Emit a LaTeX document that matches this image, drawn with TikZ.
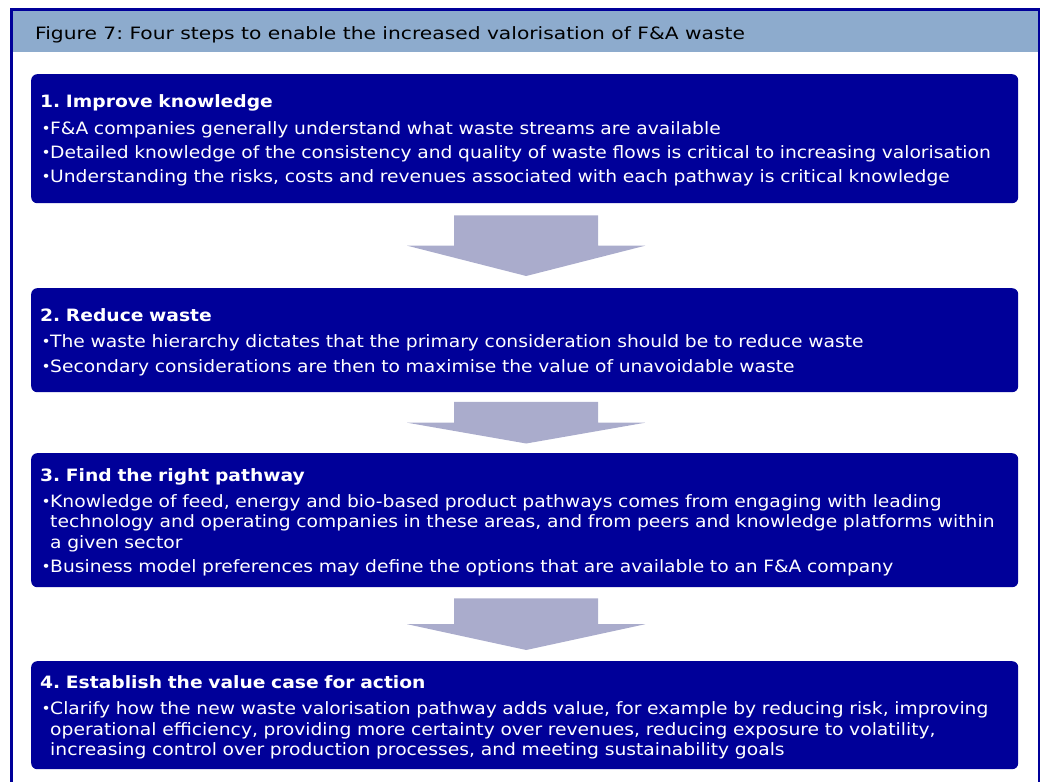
\documentclass[tikz,border=0pt]{standalone}
\usepackage{fontspec}
\usepackage{graphicx}
\setmainfont[FakeStretch=1.1]{DejaVu Sans}
\newfontfamily\capfont[FakeStretch=1.19]{DejaVu Sans}
\usetikzlibrary{calc}

\definecolor{stepblue}{RGB}{0,0,153}
\definecolor{headblue}{RGB}{141,171,205}
\definecolor{arrowgrey}{RGB}{170,172,204}

\newcommand{\stepdot}{\raisebox{1pt}{\fontsize{14}{14}\selectfont\textbullet}}
\newcommand{\steptitle}[1]{\noindent\rule{0pt}{17pt}{\bfseries #1}\par\vspace{2pt}}
\newcommand{\stepitem}[1]{\par\vspace{4pt}\hangindent=10pt\hangafter=1\noindent\makebox[10pt][l]{\hspace{1.5pt}\stepdot}#1\par}

\tikzset{
  stepbox/.style={fill=stepblue, rounded corners=6pt, text=white, anchor=north west,
    text width=969pt, inner xsep=9pt, inner ysep=0pt, align=left,
    font=\fontsize{17}{20.3}\selectfont\frenchspacing},
  blockarrow/.style={fill=arrowgrey}
}

\begin{document}
\begin{tikzpicture}[x=1pt, y=-1pt]
\useasboundingbox (0,0) rectangle (1045,782);

% frame and heading
\fill[headblue] (12,10) rectangle (1038,52);
\draw[stepblue, line width=2.5pt] (11.5,800) -- (11.5,9.5) -- (1039,9.5) -- (1039,800);
\node[anchor=west, inner sep=0pt, font=\capfont\fontsize{17}{20}\selectfont\frenchspacing] (caption) at (35,34.5)
  {Figure 7: Four steps to enable the increased valorisation of F\&A waste};

\node[stepbox, minimum height=129pt] (b1) at (31,74) {%
  \steptitle{1. Improve knowledge}
  \stepitem{F\&A companies generally understand what waste streams are available}
  \stepitem{Detailed knowledge of the consistency and quality of waste flows is critical to increasing valorisation}
  \stepitem{Understanding the risks, costs and revenues associated with each pathway is critical knowledge}};

\node[stepbox, minimum height=104pt] (b2) at (31,288) {%
  \steptitle{2. Reduce waste}
  \stepitem{The waste hierarchy dictates that the primary consideration should be to reduce waste}
  \stepitem{Secondary considerations are then to maximise the value of unavoidable waste}};

\node[stepbox, minimum height=134pt] (b3) at (31,453) {%
  \steptitle{3. Find the right pathway}
  \stepitem{Knowledge of feed, energy and bio-based product pathways comes from engaging with leading\newline
    technology and operating companies in these areas, and from peers and knowledge platforms within\newline
    a given sector}
  \stepitem{Business model preferences may define the options that are available to an F\&A company}};

\node[stepbox, minimum height=108pt] (b4) at (31,661) {%
  \steptitle{4. Establish the value case for action}
  \stepitem{Clarify how the new waste valorisation pathway adds value, for example by reducing risk, improving\newline
    operational efficiency, providing more certainty over revenues, reducing exposure to volatility,\newline
    increasing control over production processes, and meeting sustainability goals}};

% block arrows between the steps
\foreach \a/\b/\g in {b1/b2/12, b2/b3/9.5, b3/b4/11}
  \fill[blockarrow] let \p1=(\a.south), \p2=(\b.north),
      \n1={\y1-\g*1pt}, \n2={\y2+\g*1pt}, \n3={(\n1+\n2)/2}, \n4={\x1+1.5pt} in
    (\n4-72pt,\n1) -- (\n4+72pt,\n1) -- (\n4+72pt,\n3) -- (\n4+119pt,\n3)
    -- (\n4,\n2) -- (\n4-119pt,\n3) -- (\n4-72pt,\n3) -- cycle;

\end{tikzpicture}
\end{document}
